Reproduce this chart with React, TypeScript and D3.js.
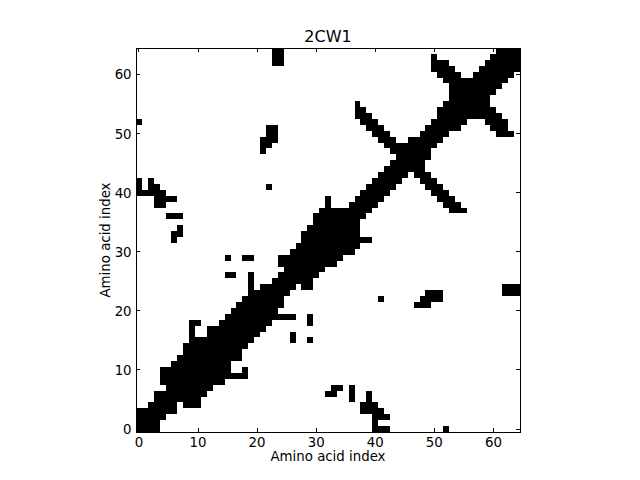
import React from "react";
import * as d3 from "d3";

// Contact map of 2CW1 (65 residues). Upper triangle (row >= column);
// the lower triangle is its mirror image.
const nResidues = 65;

// For each column i: highest row of the contiguous diagonal band (rows i..bandTop[i])
const bandTop: number[] = [
  3, 3, 4, 6, 10, 10, 11, 12, 14, 18,
  18, 15, 17, 17, 18, 19, 20, 21, 22, 26,
  23, 24, 24, 25, 29, 29, 30, 31, 33, 34,
  36, 37, 39, 37, 37, 37, 38, 39, 40, 41,
  42, 43, 44, 49, 48, 48, 49, 49, 50, 51,
  52, 54, 55, 61, 60, 59, 59, 60, 61, 62,
  63, 64, 64, 64, 64,
];

// Holes inside the band: [column, row]
const bandGaps: [number, number][] = [
  [4, 7], [10, 16], [10, 17], [24, 27], [43, 46],
];

// Off-diagonal contacts: [column, fromRow, toRow]
const offDiagonal: [number, number, number][] = [
  [0, 40, 42], [0, 52, 52], [1, 40, 40], [2, 40, 42], [3, 38, 41], [4, 38, 40],
  [5, 39, 39], [6, 39, 39], [5, 36, 36], [6, 36, 36], [7, 36, 36],
  [6, 32, 33], [7, 33, 34],
  [15, 26, 26], [16, 26, 26], [15, 29, 29], [18, 29, 29], [19, 29, 29],
  [21, 47, 49], [22, 48, 51], [23, 49, 51], [22, 41, 41],
  [23, 62, 64], [24, 62, 64],
];

// Antiparallel hairpin arms: [column, fromRow, toRow]
const hairpinA: [number, number, number][] = [
  [37, 53, 55], [38, 52, 54], [39, 51, 53], [40, 50, 52], [41, 49, 51],
  [42, 48, 50], [43, 47, 49], [44, 46, 48], [45, 45, 47],
];
const hairpinB: [number, number, number][] = [
  [50, 61, 63], [51, 60, 62], [52, 59, 62], [53, 58, 61], [54, 57, 60], [55, 56, 59],
];

const xTicks = [0, 10, 20, 30, 40, 50, 60];
const yTicks = [0, 10, 20, 30, 40, 50, 60];
const title = "2CW1";
const xLabel = "Amino acid index";
const yLabel = "Amino acid index";

function buildCells(): [number, number][] {
  const key = (c: number, r: number) => c * 1000 + r;
  const set = new Set<number>();
  const gapSet = new Set(bandGaps.map(([c, r]) => key(c, r)));
  bandTop.forEach((top, c) => {
    for (let r = c; r <= top; r++) if (!gapSet.has(key(c, r))) set.add(key(c, r));
  });
  [...offDiagonal, ...hairpinA, ...hairpinB].forEach(([c, a, b]) => {
    for (let r = a; r <= b; r++) set.add(key(c, r));
  });
  const cells: [number, number][] = [];
  const all = new Set<number>();
  set.forEach((k) => {
    const c = Math.floor(k / 1000);
    const r = k % 1000;
    all.add(key(c, r));
    all.add(key(r, c));
  });
  all.forEach((k) => cells.push([Math.floor(k / 1000), k % 1000]));
  return cells;
}

export default function App() {
  const W = 640;
  const H = 480;
  const x = d3.scaleLinear().domain([-0.5, nResidues - 0.5]).range([136, 520]);
  const y = d3.scaleLinear().domain([-0.5, nResidues - 0.5]).range([432, 48]);
  const cells = buildCells();
  const font = "'DejaVu Sans', sans-serif";
  const tick = 4.4;
  return (
    <svg
      width={W}
      height={H}
      style={{ position: "absolute", left: 0, top: 0, background: "#fff" }}
      fontFamily={font}
    >
      <rect x={0} y={0} width={W} height={H} fill="#fff" />
      <g shapeRendering="crispEdges">
        {cells.map(([c, r]) => (
          <rect
            key={c + "_" + r}
            x={x(c - 0.5)}
            y={y(r + 0.5)}
            width={x(c + 0.5) - x(c - 0.5)}
            height={y(r - 0.5) - y(r + 0.5)}
            fill="#000"
          />
        ))}
      </g>
      <rect x={136} y={48} width={384} height={384} fill="none" stroke="#000" strokeWidth={1} shapeRendering="crispEdges" />
      <g stroke="#000" strokeWidth={1} shapeRendering="crispEdges">
        {xTicks.map((t) => (
          <g key={"xt" + t}>
            <line x1={x(t)} x2={x(t)} y1={432} y2={432 - tick} />
            <line x1={x(t)} x2={x(t)} y1={48} y2={48 + tick} />
          </g>
        ))}
        {yTicks.map((t) => (
          <g key={"yt" + t}>
            <line x1={136} x2={136 + tick} y1={y(t)} y2={y(t)} />
            <line x1={520} x2={520 - tick} y1={y(t)} y2={y(t)} />
          </g>
        ))}
      </g>
      <g fontSize={13.33} fill="#000">
        {xTicks.map((t) => (
          <text key={"xl" + t} x={x(t)} y={446.5} textAnchor="middle">
            {t}
          </text>
        ))}
        {yTicks.map((t) => (
          <text key={"yl" + t} x={131.6} y={y(t) + 4.9} textAnchor="end">
            {t}
          </text>
        ))}
      </g>
      <text x={328} y={42.4} textAnchor="middle" fontSize={16} fill="#000">
        {title}
      </text>
      <text x={328} y={461} textAnchor="middle" fontSize={13.33} fill="#000">
        {xLabel}
      </text>
      <text
        transform={`translate(109.5,240) rotate(-90)`}
        textAnchor="middle"
        fontSize={13.33}
        fill="#000"
      >
        {yLabel}
      </text>
    </svg>
  );
}
